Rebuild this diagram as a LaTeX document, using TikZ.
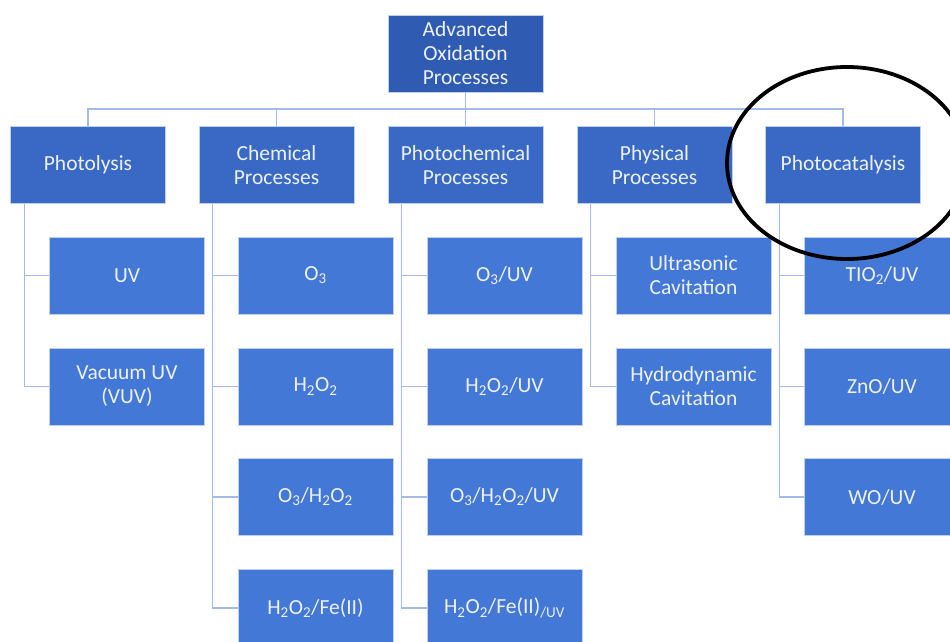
\documentclass[tikz,border=0pt]{standalone}
\usepackage{fontspec}
\setmainfont{Carlito}
\definecolor{cA}{RGB}{47,91,179}
\definecolor{cB}{RGB}{57,105,197}
\definecolor{cC}{RGB}{67,120,214}
\definecolor{cLine}{RGB}{164,186,232}
\definecolor{cTxt}{RGB}{236,241,250}
\definecolor{cEdge}{RGB}{190,208,242}
\tikzset{
  bx/.style={minimum width=155pt, minimum height=77pt, inner sep=0pt, align=center,
    text=cTxt, draw=cEdge, line width=0.6pt, font=\fontsize{21.5}{24}\selectfont},
  bxA/.style={bx, fill=cA},
  bxB/.style={bx, fill=cB},
  bxC/.style={bx, fill=cC},
  conn/.style={draw=cLine, line width=1.3pt}
}
\begin{document}
\begin{tikzpicture}[x=1pt,y=-1pt]
\useasboundingbox (0,0) rectangle (950,642);
\clip (0,0) rectangle (950,642);
\fill[white] (0,0) rectangle (950,642);
\coordinate (bus) at (0,109);
\node[bxA] (top) at (465.5,53.5) {Advanced\\Oxidation\\Processes};
\node[bxB] (p1) at (88,165) {Photolysis};
\node[bxB] (p2) at (276.5,165) {Chemical\\Processes};
\node[bxB] (p3) at (465.5,165) {Photochemical\\Processes};
\node[bxB] (p4) at (654.5,165) {Physical\\Processes};
\node[bxB] (p5) at (843,165) {Photocatalysis};
% children
\node[bxC] (c11) at (127,275.5) {UV};
\node[bxC] (c12) at (127,386.5) {Vacuum UV\\(VUV)};
\node[bxC] (c21) at (315.5,275.5) {O\textsubscript{3}};
\node[bxC] (c22) at (315.5,386.5) {H\textsubscript{2}O\textsubscript{2}};
\node[bxC] (c23) at (315.5,497) {O\textsubscript{3}/H\textsubscript{2}O\textsubscript{2}};
\node[bxC] (c24) at (315.5,608) {H\textsubscript{2}O\textsubscript{2}/Fe(II)};
\node[bxC] (c31) at (504.5,275.5) {O\textsubscript{3}/UV};
\node[bxC] (c32) at (504.5,386.5) {H\textsubscript{2}O\textsubscript{2}/UV};
\node[bxC] (c33) at (504.5,497) {O\textsubscript{3}/H\textsubscript{2}O\textsubscript{2}/UV};
\node[bxC] (c34) at (504.5,608) {H\textsubscript{2}O\textsubscript{2}/Fe(II)\textsubscript{/UV}};
\node[bxC] (c41) at (693.5,275.5) {Ultrasonic\\Cavitation};
\node[bxC] (c42) at (693.5,386.5) {Hydrodynamic\\Cavitation};
\node[bxC] (c51) at (882,275.5) {TIO\textsubscript{2}/UV};
\node[bxC] (c52) at (882,386.5) {ZnO/UV};
\node[bxC] (c53) at (882,497) {WO/UV};
% top-level connectors
\foreach \p in {p1,p2,p3,p4,p5}
  \draw[conn] (top.south) -- (top.south |- bus) -| (\p.north);
% child connectors
\foreach \p/\c in {p1/c11,p1/c12,p2/c21,p2/c22,p2/c23,p2/c24,p3/c31,p3/c32,p3/c33,p3/c34,p4/c41,p4/c42,p5/c51,p5/c52,p5/c53}
  \draw[conn] ([xshift=14pt]\p.south west) |- (\c.west);
% highlight ellipse
\draw[black, line width=3.8pt] (847,163) ellipse [x radius=120pt, y radius=96pt];
\end{tikzpicture}
\end{document}
